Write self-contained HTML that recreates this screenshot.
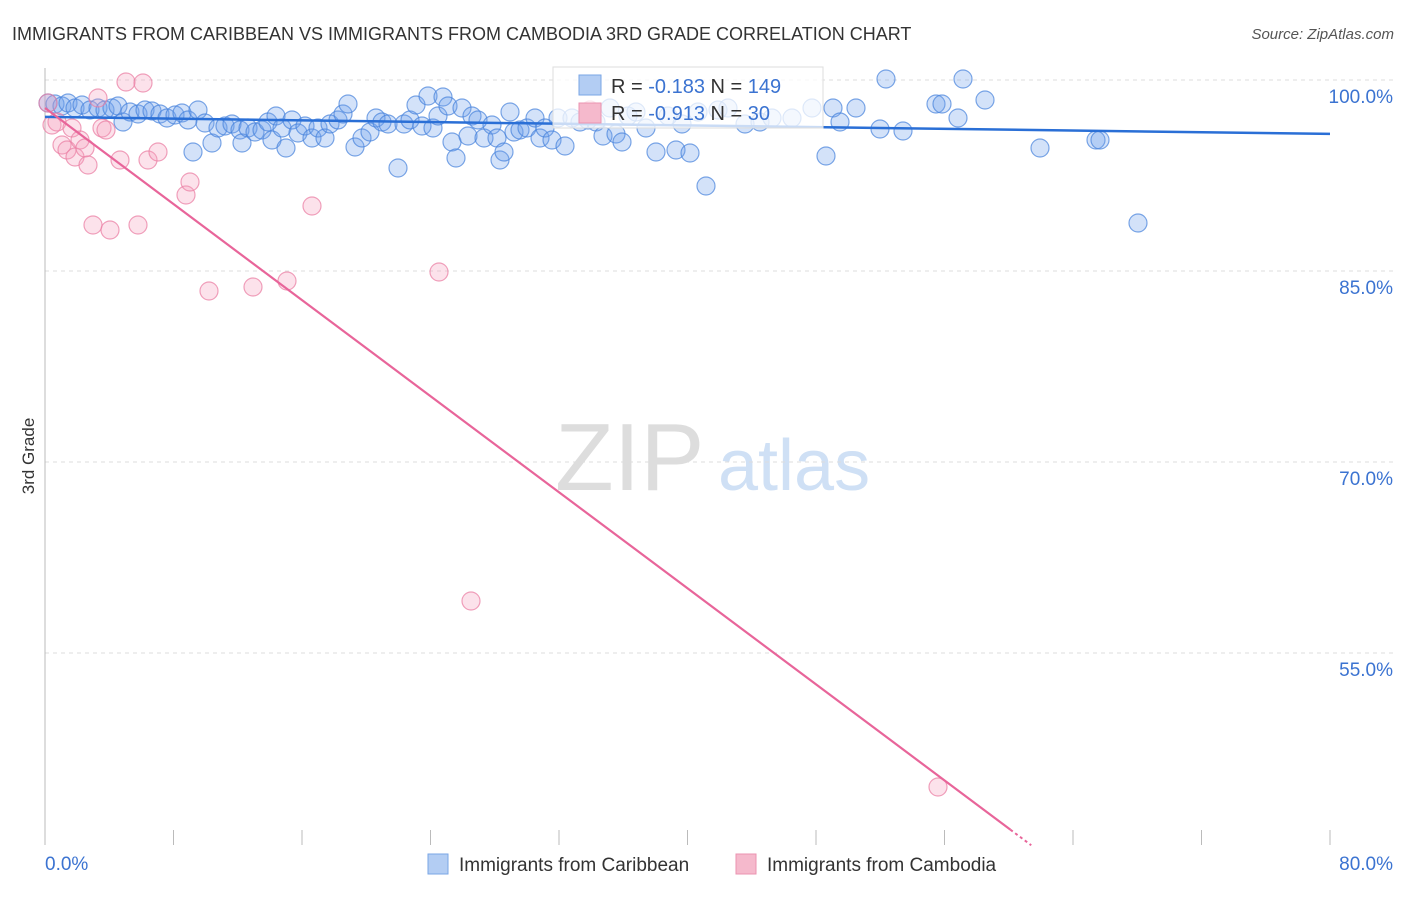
<!DOCTYPE html>
<html><head><meta charset="utf-8"><style>
body{margin:0;background:#fff;font-family:"Liberation Sans",sans-serif;}
svg text{font-family:"Liberation Sans",sans-serif;}
</style></head><body>
<svg id="chart" width="1406" height="892">
<text x="12" y="40" font-size="18" fill="#333">IMMIGRANTS FROM CARIBBEAN VS IMMIGRANTS FROM CAMBODIA 3RD GRADE CORRELATION CHART</text>
<text x="1394" y="39" font-size="15" fill="#555" text-anchor="end" font-style="italic">Source: ZipAtlas.com</text>
<g><text x="555" y="490" font-size="96" fill="#ddd" font-family="Liberation Serif,serif">ZIP</text><text x="718" y="490" font-size="72" fill="#cfe0f5">atlas</text></g>
<g id="grid"></g><g id="axes"></g><g id="pts"></g><g id="lines"></g>
<text x="34" y="456" font-size="17" fill="#333" text-anchor="middle" transform="rotate(-90 34 456)">3rd Grade</text>
<g>
<rect x="553" y="67" width="270" height="61" fill="rgba(255,255,255,0.75)" stroke="#ddd"/>
<rect x="579" y="75" width="22" height="20" fill="#b3cdf3" stroke="#7aa6e6"/>
<rect x="579" y="103" width="22" height="20" fill="#f5b9cc" stroke="#eb93b0"/>
<text x="611" y="93" font-size="20" fill="#333">R = <tspan fill="#3b73d1">-0.183</tspan>   N = <tspan fill="#3b73d1">149</tspan></text>
<text x="611" y="120" font-size="20" fill="#333">R = <tspan fill="#3b73d1">-0.913</tspan>   N = <tspan fill="#3b73d1"> 30</tspan></text>
</g>
<g>
<rect x="428" y="854" width="20" height="20" fill="#b3cdf3" stroke="#7aa6e6"/>
<text x="459" y="871" font-size="19" fill="#333">Immigrants from Caribbean</text>
<rect x="736" y="854" width="20" height="20" fill="#f5b9cc" stroke="#eb93b0"/>
<text x="767" y="871" font-size="19" fill="#333">Immigrants from Cambodia</text>
</g>
</svg>
<script>
const yTicks=[100,85,70,55];
const yTickLabels=["100.0%","85.0%","70.0%","55.0%"];
const xTickLabels=["0.0%","80.0%"];
const blueLine=[97.1,-0.0167];
const pinkLine=[97.8,-0.943];
const bluePx=[[48,103],[55,104],[62,106],[68,103],[75,108],[82,105],[90,110],[98,108],[105,110],[112,108],[118,106],[123,122],[130,112],[138,114],[145,110],[152,111],[160,114],[167,118],[175,115],[182,113],[188,120],[193,152],[198,110],[205,123],[212,143],[218,128],[225,126],[232,124],[240,130],[242,143],[248,128],[255,132],[262,130],[268,122],[272,140],[276,116],[282,128],[286,148],[292,120],[298,133],[305,126],[312,138],[318,128],[325,138],[330,124],[338,120],[343,114],[348,104],[355,147],[362,138],[370,132],[376,118],[382,122],[388,124],[398,168],[404,124],[410,120],[416,105],[422,126],[428,96],[433,128],[438,116],[443,97],[448,106],[452,142],[456,158],[462,108],[468,136],[472,116],[478,120],[484,138],[492,125],[497,138],[500,160],[504,152],[510,112],[514,132],[520,130],[527,128],[535,118],[540,138],[545,128],[552,140],[558,118],[565,146],[572,118],[580,122],[588,120],[596,122],[603,136],[610,108],[616,134],[622,142],[628,116],[636,112],[646,128],[656,152],[668,116],[676,150],[682,124],[690,153],[698,112],[706,186],[718,110],[728,108],[745,124],[760,122],[772,118],[792,118],[812,108],[826,156],[833,108],[840,122],[856,108],[880,129],[886,79],[903,131],[936,104],[942,104],[958,118],[963,79],[985,100],[1040,148],[1096,140],[1100,140],[1138,223]];
const pinkPx=[[48,103],[52,125],[57,122],[62,145],[67,150],[72,128],[75,157],[80,140],[85,148],[88,165],[93,225],[98,98],[102,128],[106,130],[110,230],[120,160],[126,82],[138,225],[143,83],[148,160],[158,152],[186,195],[190,182],[209,291],[253,287],[287,281],[312,206],[439,272],[471,601],[938,787],[590,110]];
// convert pixel readings to data values
const toX=p=>(p-45)/1285*80, toY=p=>100-(p-80)/12.733;
const caribbeanX=bluePx.map(p=>toX(p[0])), caribbeanY=bluePx.map(p=>toY(p[1]));
const cambodiaX=pinkPx.map(p=>toX(p[0])), cambodiaY=pinkPx.map(p=>toY(p[1]));
const X=v=>45+v/80*1285, Y=v=>80+(100-v)*12.733;
const NS="http://www.w3.org/2000/svg";
function mk(t,a,par){const e=document.createElementNS(NS,t);for(const k in a)e.setAttribute(k,a[k]);document.getElementById(par).appendChild(e);return e;}
yTicks.forEach((v,i)=>{
 const g=mk('line',{x1:45,x2:1395,y1:Y(v),y2:Y(v),stroke:'#ddd','stroke-dasharray':'4,4'},'grid');
 
 
 const t=mk('text',{x:1393,y:Y(v)+23,'font-size':19,fill:'#3b73d1','text-anchor':'end'},'axes');t.textContent=yTickLabels[i];
 
 
});
let ax=mk('line',{x1:45,x2:45,y1:68,y2:845,stroke:'#bbb'},'axes');


for(let i=0;i<=10;i++){const tk=mk('line',{x1:X(i*8),x2:X(i*8),y1:830,y2:845,stroke:'#bbb'},'axes');
 
 }
[[0,'start',45],[80,'end',1393]].forEach((d,i)=>{const t=mk('text',{x:d[2],y:870,'font-size':19,fill:'#3b73d1','text-anchor':d[1]},'axes');t.textContent=xTickLabels[i];
 
 });
caribbeanX.forEach((x,i)=>{const c=mk('circle',{cx:X(x),cy:Y(caribbeanY[i]),r:9,fill:'rgba(110,160,235,0.3)',stroke:'rgba(70,130,220,0.7)','stroke-width':1.2},'pts');
 
 });
cambodiaX.forEach((x,i)=>{const c=mk('circle',{cx:X(x),cy:Y(cambodiaY[i]),r:9,fill:'rgba(245,160,190,0.3)',stroke:'rgba(235,130,165,0.75)','stroke-width':1.2},'pts');
 
 });
let bl=mk('line',{x1:X(0),y1:Y(blueLine[0]),x2:X(80),y2:Y(blueLine[0]+blueLine[1]*80),stroke:'#2a6fd6','stroke-width':2.5},'lines');


const xe=60.1,xe2=61.4;
let pl=mk('line',{x1:X(0),y1:Y(pinkLine[0]),x2:X(xe),y2:Y(pinkLine[0]+pinkLine[1]*xe),stroke:'#e8659a','stroke-width':2.2},'lines');


let pd=mk('line',{x1:X(xe),y1:Y(pinkLine[0]+pinkLine[1]*xe),x2:X(xe2),y2:Y(pinkLine[0]+pinkLine[1]*xe2),stroke:'#e8659a','stroke-width':2,'stroke-dasharray':'3,3'},'lines');


</script>
</body></html>
